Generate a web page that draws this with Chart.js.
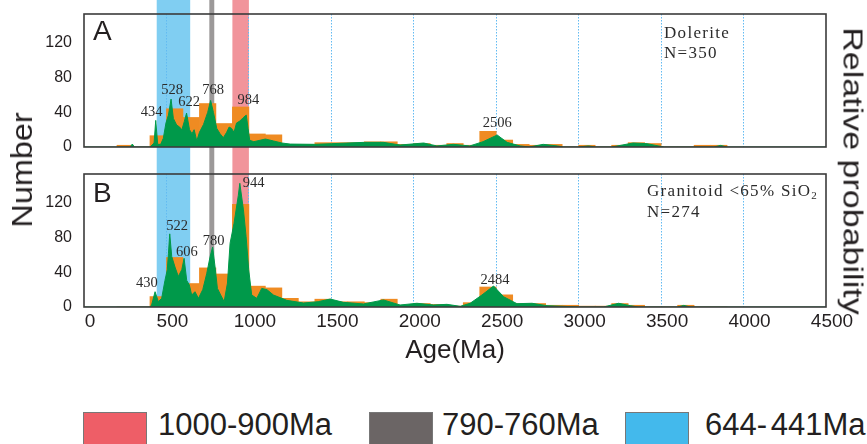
<!DOCTYPE html>
<html>
<head>
<meta charset="utf-8">
<script src="https://cdn.jsdelivr.net/npm/chart.js@4.4.1/dist/chart.umd.min.js"></script>
<style>
  body { margin: 0; background: #fff; width: 867px; height: 444px; overflow: hidden; position: relative; font-family: 'Liberation Sans', Arial, sans-serif; color: #231f20; }
  canvas { position: absolute; left: 0; }
  #chartA { top: 0; }
  #chartB { top: 160px; }
  .vtitle { position: absolute; white-space: nowrap; line-height: 1; }
  #numTitle { left: 22px; top: 170px; font-size: 30px; transform: translate(-50%, -50%) rotate(-90deg) scaleX(1.08); }
  #probTitle { left: 852px; top: 171px; font-size: 27px; transform: translate(-50%, -50%) rotate(90deg) scaleX(1.26); }
  .lg-box { position: absolute; top: 412px; width: 62px; height: 40px; border: 1px solid #777; }
  .lg-text { position: absolute; top: 409px; font-size: 31px; line-height: 1; white-space: nowrap; word-spacing: -5px; }
</style>
</head>
<body>
<canvas id="chartA" width="867" height="160"></canvas>
<canvas id="chartB" width="867" height="210"></canvas>
<div class="vtitle" id="numTitle">Number</div>
<div class="vtitle" id="probTitle">Relative probability</div>
<div id="legend"></div>
<script>
// histogram bins, 100 Ma wide (lower edge, Ma)
const binStart = [200, 300, 400, 500, 600, 700, 800, 900, 1000, 1100, 1200, 1300, 1400, 1500, 1600, 1700, 1800, 1900, 2000, 2100, 2200, 2300, 2400, 2500, 2600, 2700, 2800, 2900, 3000, 3100, 3200, 3300, 3400, 3500, 3600, 3700, 3800];
const countA = [2, 0, 13, 44, 34, 50, 27, 46, 15, 14, 3, 3, 5, 5, 5, 6, 6, 3, 4, 2, 4, 2, 18, 8, 3, 2, 3, 0, 2, 0, 2, 5, 4, 0, 0, 2, 2];
const countB = [0, 0, 12, 57, 27, 45, 38, 118, 24, 22, 10, 6, 9, 6, 6, 5, 9, 2, 4, 3, 1, 5, 23, 14, 4, 4, 2, 2, 1, 1, 4, 2, 0, 0, 2, 0, 0];

// relative probability curves (age in Ma, value as fraction of panel height)
const kdeAgeA = [0, 280, 293, 305, 400, 425, 435, 447, 465, 481, 497, 512, 528, 542, 562, 580, 593, 608, 622, 640, 655, 668, 684, 700, 725, 750, 768, 785, 805, 825, 845, 865, 880, 895, 910, 925, 945, 965, 984, 995, 1005, 1030, 1100, 1150, 1200, 1250, 1400, 1500, 1600, 1700, 1815, 1917, 2060, 2140, 2240, 2340, 2420, 2506, 2566, 2645, 2700, 2785, 2870, 2910, 3000, 3060, 3100, 3200, 3330, 3415, 3475, 3520, 3820, 3860, 3900, 4500];
const kdeA = [0, 0, 0.022, 0, 0, 0.03, 0.2, 0.02, 0.02, 0.065, 0.18, 0.24, 0.36, 0.215, 0.165, 0.15, 0.128, 0.19, 0.255, 0.13, 0.10, 0.13, 0.045, 0.11, 0.17, 0.26, 0.35, 0.26, 0.14, 0.10, 0.07, 0.11, 0.15, 0.14, 0.11, 0.18, 0.195, 0.22, 0.24, 0.14, 0.05, 0.04, 0.06, 0.045, 0.03, 0.022, 0.02, 0.025, 0.03, 0.035, 0.035, 0.015, 0.03, 0.008, 0.02, 0.008, 0.04, 0.09, 0.035, 0.008, 0, 0.02, 0.008, 0, 0, 0.008, 0, 0, 0.03, 0.025, 0.01, 0, 0, 0.012, 0, 0];
const kdeAgeB = [0, 400, 410, 431, 451, 471, 491, 505, 512, 520, 532, 552, 572, 593, 607, 623, 639, 653, 673, 694, 720, 744, 765, 780, 795, 809, 829, 850, 870, 886, 910, 936, 945, 967, 983, 999, 1017, 1048, 1078, 1110, 1149, 1230, 1331, 1420, 1493, 1573, 1695, 1816, 1917, 2019, 2120, 2201, 2282, 2342, 2413, 2484, 2545, 2626, 2717, 2808, 2907, 3000, 3150, 3242, 3313, 3360, 3600, 3637, 3680, 4500];
const kdeB = [0, 0, 0.015, 0.115, 0.04, 0.065, 0.2, 0.28, 0.4, 0.55, 0.38, 0.30, 0.23, 0.28, 0.366, 0.20, 0.165, 0.09, 0.115, 0.065, 0.13, 0.25, 0.38, 0.45, 0.30, 0.14, 0.09, 0.04, 0.18, 0.48, 0.63, 0.84, 0.93, 0.73, 0.53, 0.28, 0.09, 0.065, 0.14, 0.13, 0.09, 0.05, 0.03, 0.04, 0.06, 0.035, 0.023, 0.053, 0.015, 0.028, 0.015, 0.02, 0.005, 0.028, 0.09, 0.158, 0.077, 0.025, 0.028, 0.01, 0.005, 0, 0, 0.028, 0.01, 0, 0, 0.012, 0, 0];

// labelled peaks (Ma)
const peaksA = [434, 528, 622, 768, 984, 2506];
const peaksB = [430, 522, 606, 780, 944, 2484];

// age bands
const bandLabels = ['1000-900Ma', '790-760Ma', '644- 441Ma'];
const bandFrom = [900, 760, 441];
const bandTo = [1000, 790, 644];

const orange = '#EF8B22';
const green = '#00994A';
const bandFill = ['#F1949B', '#9C9999', '#80CEF2'];
const bandSwatch = ['#EE5E67', '#6B6565', '#43B9EC'];
const ink = '#231f20';
const gridBlue = '#62BBF2';

Chart.defaults.font.family = "'Liberation Sans', Arial, sans-serif";
Chart.defaults.color = ink;

function kdeAt(ages, vals, a) {
    for (let i = 1; i < ages.length; i++) {
        if (a <= ages[i]) {
            const t = (a - ages[i - 1]) / (ages[i] - ages[i - 1]);
            return vals[i - 1] + t * (vals[i] - vals[i - 1]);
        }
    }
    return 0;
}

// bands behind everything, frame + annotations on top
function makeOverlay(cfg) {
    return {
        id: 'overlay',
        beforeDraw(chart) {
            const { ctx, chartArea, scales: { x } } = chart;
            const bottom = cfg.bandsToEdge ? chart.height : chartArea.bottom;
            ctx.save();
            bandFrom.forEach((a, i) => {
                const x0 = x.getPixelForValue(a);
                const x1 = x.getPixelForValue(bandTo[i]);
                ctx.fillStyle = bandFill[i];
                ctx.fillRect(x0, 0, x1 - x0, bottom);
            });
            ctx.restore();
        },
        afterDatasetsDraw(chart) {
            const { ctx, chartArea: ca } = chart;
            ctx.save();
            ctx.strokeStyle = '#3b3b3b';
            ctx.lineWidth = 1.6;
            ctx.strokeRect(ca.left, ca.top, ca.right - ca.left, ca.bottom - ca.top);
            ctx.restore();
        },
        afterDraw(chart) {
            const { ctx, chartArea: ca, scales: { x, yP } } = chart;
            ctx.save();
            ctx.fillStyle = ink;
            ctx.font = "28px 'Liberation Sans', Arial, sans-serif";
            ctx.textAlign = 'left';
            ctx.textBaseline = 'alphabetic';
            ctx.fillText(cfg.letter, ca.left + 9, ca.top + cfg.letterDy);

            ctx.fillStyle = '#2b2b2b';
            ctx.font = "14.5px 'Liberation Serif', serif";
            ctx.textAlign = 'center';
            ctx.textBaseline = 'middle';
            cfg.peaks.forEach((p, i) => {
                const px = x.getPixelForValue(p) + cfg.nudge[i][0];
                const py = yP.getPixelForValue(kdeAt(cfg.ages, cfg.vals, p)) + cfg.nudge[i][1];
                ctx.fillText(String(p), px, py);
            });

            ctx.textAlign = 'left';
            if ('letterSpacing' in ctx) ctx.letterSpacing = '1.3px';
            cfg.notes.forEach((line, i) => {
                let tx = cfg.noteX;
                const ty = cfg.noteY[i];
                ctx.font = "17px 'Liberation Serif', serif";
                ctx.fillText(line, tx, ty);
                if (i === 0 && cfg.subscript) {
                    tx += ctx.measureText(line).width;
                    ctx.font = "11px 'Liberation Serif', serif";
                    ctx.fillText(cfg.subscript, tx, ty + 4);
                }
            });
            ctx.restore();
        }
    };
}

// Panel A - Dolerite
const chartA = new Chart(document.getElementById('chartA'), {
    type: 'bar',
    data: {
        datasets: [{
            type: 'line',
            data: kdeAgeA.map((a, i) => ({ x: a, y: kdeA[i] })),
            yAxisID: 'yP',
            borderColor: green,
            backgroundColor: green,
            borderWidth: 1,
            pointRadius: 0,
            tension: 0,
            fill: 'origin',
            order: 1
        }, {
            type: 'bar',
            data: binStart.map((b, i) => ({ x: b + 50, y: countA[i] })),
            yAxisID: 'y',
            backgroundColor: orange,
            barPercentage: 1,
            categoryPercentage: 1,
            order: 2
        }]
    },
    options: {
        responsive: false,
        animation: false,
        layout: { padding: { left: 0, right: 41, top: 14, bottom: 13 } },
        scales: {
            x: {
                type: 'linear', min: 0, max: 4500, offset: false,
                ticks: { display: false, stepSize: 500 },
                grid: { drawTicks: false, offset: false, color: c => (c.tick && (c.tick.value === 0 || c.tick.value === 4500)) ? 'rgba(0,0,0,0)' : gridBlue },
                border: { display: false, dash: [1.5, 1.5] },
                afterFit: s => { s.height = 0; s.paddingLeft = 0; s.paddingRight = 0; }
            },
            y: {
                min: 0, max: 153,
                ticks: { stepSize: 40, includeBounds: false, padding: 12, font: { size: 16 } },
                grid: { display: false, drawTicks: false },
                border: { display: false },
                afterFit: s => { s.width = 84; s.paddingTop = 0; s.paddingBottom = 0; }
            },
            yP: { display: false, min: 0, max: 1 }
        },
        plugins: { legend: { display: false }, tooltip: { enabled: false } }
    },
    plugins: [makeOverlay({
        bandsToEdge: true, letter: 'A', letterDy: 26,
        peaks: peaksA, ages: kdeAgeA, vals: kdeA,
        nudge: [[-4, -10], [1, -9], [2.5, -11], [2.5, -10], [2, -15], [0, -12]],
        notes: ['Dolerite', 'N=350'], noteX: 664, noteY: [34, 54]
    })]
});

// Panel B - Granitoid
const chartB = new Chart(document.getElementById('chartB'), {
    type: 'bar',
    data: {
        datasets: [{
            type: 'line',
            data: kdeAgeB.map((a, i) => ({ x: a, y: kdeB[i] })),
            yAxisID: 'yP',
            borderColor: green,
            backgroundColor: green,
            borderWidth: 1,
            pointRadius: 0,
            tension: 0,
            fill: 'origin',
            order: 1
        }, {
            type: 'bar',
            data: binStart.map((b, i) => ({ x: b + 50, y: countB[i] })),
            yAxisID: 'y',
            backgroundColor: orange,
            barPercentage: 1,
            categoryPercentage: 1,
            order: 2
        }]
    },
    options: {
        responsive: false,
        animation: false,
        layout: { padding: { left: 0, right: 41, top: 14, bottom: 0 } },
        scales: {
            x: {
                type: 'linear', min: 0, max: 4500, offset: false,
                ticks: { stepSize: 500, padding: 3, labelOffset: 6, maxRotation: 0, font: { size: 19 }, callback: v => String(v) },
                grid: { drawTicks: false, offset: false, color: c => (c.tick && (c.tick.value === 0 || c.tick.value === 4500)) ? 'rgba(0,0,0,0)' : gridBlue },
                border: { display: false, dash: [1.5, 1.5] },
                title: { display: true, text: 'Age(Ma)', font: { size: 26 }, padding: { top: 0, bottom: 4 } },
                afterFit: s => { s.height = 63; s.paddingLeft = 0; s.paddingRight = 0; }
            },
            y: {
                min: 0, max: 153,
                ticks: { stepSize: 40, includeBounds: false, padding: 12, font: { size: 16 } },
                grid: { display: false, drawTicks: false },
                border: { display: false },
                afterFit: s => { s.width = 84; s.paddingTop = 0; s.paddingBottom = 0; }
            },
            yP: { display: false, min: 0, max: 1 }
        },
        plugins: { legend: { display: false }, tooltip: { enabled: false } }
    },
    plugins: [makeOverlay({
        bandsToEdge: false, letter: 'B', letterDy: 28,
        peaks: peaksB, ages: kdeAgeB, vals: kdeB,
        nudge: [[-8, -9], [7, -11], [3, -7], [1, -5.5], [14, -1.5], [1.5, -6]],
        notes: ['Granitoid <65% SiO', 'N=274'], subscript: '2', noteX: 647, noteY: [32, 53]
    })]
});

// band legend
const legendBoxX = [83, 369, 625];
const legendTextX = [158, 442, 705];
const legend = document.getElementById('legend');
bandLabels.forEach((label, i) => {
    const box = document.createElement('div');
    box.className = 'lg-box';
    box.style.left = legendBoxX[i] + 'px';
    box.style.background = bandSwatch[i];
    legend.appendChild(box);
    const txt = document.createElement('div');
    txt.className = 'lg-text';
    txt.style.left = legendTextX[i] + 'px';
    txt.textContent = label;
    legend.appendChild(txt);
});
</script>
</body>
</html>
